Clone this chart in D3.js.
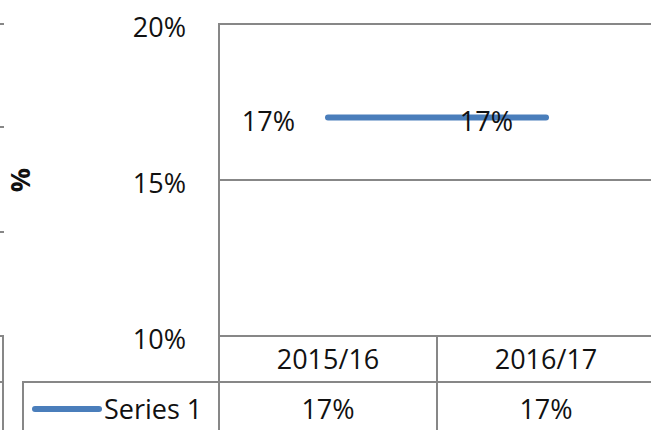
<!DOCTYPE html>
<html lang="en">
<head>
<meta charset="UTF-8">
<title>Series 1</title>
<script src="https://cdn.jsdelivr.net/npm/d3@7"></script>
<style>
  body { margin: 0; background: #fff; }
  text { font-family: "Open Sans", sans-serif; fill: #111; }
</style>
</head>
<body>
<svg id="chart" width="651" height="430"></svg>
<script>
// data
var categories = ['2015/16', '2016/17'];
var seriesName = 'Series 1';
var values = [17, 17];
var yTicks = [10, 15, 20];

var svg = d3.select('#chart');
var grid = '#878787';
var fs = 27;

var x = d3.scaleBand().domain(categories).range([219, 655]);
var y = d3.scaleLinear().domain([10, 20]).range([336, 24]);
var cx = function (d) { return x(d) + x.bandwidth() / 2; };

// bits of the neighbouring chart, clipped at the left edge
[24, 127, 232].forEach(function (ty) {
  svg.append('line').attr('x1', 0).attr('x2', 4).attr('y1', ty).attr('y2', ty)
    .attr('stroke', grid).attr('stroke-width', 2);
});
svg.append('path').attr('d', 'M0,336H3V430M0,382H3')
  .attr('fill', 'none').attr('stroke', grid).attr('stroke-width', 2);

// gridlines
svg.selectAll('.grid').data(yTicks).enter().append('line')
  .attr('x1', 219).attr('x2', 651)
  .attr('y1', d => y(d)).attr('y2', d => y(d))
  .attr('stroke', grid).attr('stroke-width', 2);
// plot left border down through the table
svg.append('line').attr('x1', 219).attr('x2', 219).attr('y1', y(20) - 1).attr('y2', 430)
  .attr('stroke', grid).attr('stroke-width', 2);

// data table lines
svg.append('line').attr('x1', 23).attr('x2', 651).attr('y1', 382).attr('y2', 382)
  .attr('stroke', grid).attr('stroke-width', 2);
svg.append('line').attr('x1', 23).attr('x2', 23).attr('y1', 381).attr('y2', 430)
  .attr('stroke', grid).attr('stroke-width', 2);
svg.selectAll('.div').data(categories.slice(1)).enter().append('line')
  .attr('x1', d => x(d)).attr('x2', d => x(d)).attr('y1', y(10)).attr('y2', 430)
  .attr('stroke', grid).attr('stroke-width', 2);

// y tick labels
svg.selectAll('.ylab').data(yTicks).enter().append('text')
  .attr('x', 186).attr('y', d => y(d) + 6)
  .attr('text-anchor', 'end').attr('dominant-baseline', 'middle')
  .attr('font-size', fs).text(d => d + '%');

// axis title
svg.append('text').attr('transform', 'translate(23,180) rotate(-90)')
  .attr('text-anchor', 'middle').attr('dominant-baseline', 'middle')
  .attr('font-size', fs).attr('font-weight', 'bold').text('%');

// line
var line = d3.line().x((d, i) => cx(categories[i])).y(d => y(d));
svg.append('path').datum(values)
  .attr('d', line).attr('fill', 'none')
  .attr('stroke', '#4a7ebb').attr('stroke-width', 6).attr('stroke-linecap', 'round');

// data labels (left of point)
svg.selectAll('.dlab').data(values).enter().append('text')
  .attr('x', (d, i) => cx(categories[i]) - 33).attr('y', d => y(d) + 6)
  .attr('text-anchor', 'end').attr('dominant-baseline', 'middle')
  .attr('font-size', fs).text(d => d + '%');

// category row
svg.selectAll('.cat').data(categories).enter().append('text')
  .attr('x', d => cx(d)).attr('y', 362)
  .attr('text-anchor', 'middle').attr('dominant-baseline', 'middle')
  .attr('font-size', fs).text(d => d);

// series row
svg.append('line').attr('x1', 35).attr('x2', 99).attr('y1', 409).attr('y2', 409)
  .attr('stroke', '#4a7ebb').attr('stroke-width', 6).attr('stroke-linecap', 'round');
svg.append('text').attr('x', 104).attr('y', 412)
  .attr('dominant-baseline', 'middle').attr('font-size', fs).text(seriesName);
svg.selectAll('.val').data(values).enter().append('text')
  .attr('x', (d, i) => cx(categories[i])).attr('y', 412)
  .attr('text-anchor', 'middle').attr('dominant-baseline', 'middle')
  .attr('font-size', fs).text(d => d + '%');
</script>
</body>
</html>
